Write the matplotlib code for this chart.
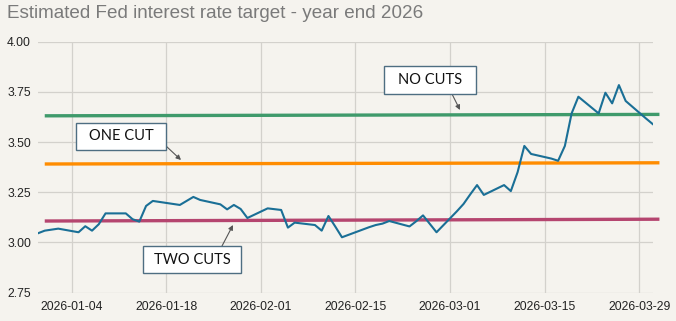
import matplotlib
matplotlib.use("Agg")
import matplotlib.pyplot as plt
import matplotlib.dates as mdates
from matplotlib.patches import Rectangle
import pandas as pd

# Market-implied year-end 2026 Fed funds target (daily closes)
dates = [
    "2025-12-30", "2025-12-31", "2026-01-02", "2026-01-05", "2026-01-06", "2026-01-07",
    "2026-01-08", "2026-01-09", "2026-01-12", "2026-01-13", "2026-01-14", "2026-01-15",
    "2026-01-16", "2026-01-20", "2026-01-21", "2026-01-22", "2026-01-23", "2026-01-26",
    "2026-01-27", "2026-01-28", "2026-01-29", "2026-01-30", "2026-02-02", "2026-02-03",
    "2026-02-04", "2026-02-05", "2026-02-06", "2026-02-09", "2026-02-10", "2026-02-11",
    "2026-02-12", "2026-02-13", "2026-02-17", "2026-02-18", "2026-02-19", "2026-02-20",
    "2026-02-23", "2026-02-24", "2026-02-25", "2026-02-26", "2026-02-27", "2026-03-02",
    "2026-03-03", "2026-03-04", "2026-03-05", "2026-03-06", "2026-03-09", "2026-03-10",
    "2026-03-11", "2026-03-12", "2026-03-13", "2026-03-16", "2026-03-17", "2026-03-18",
    "2026-03-19", "2026-03-20", "2026-03-23", "2026-03-24", "2026-03-25", "2026-03-26",
    "2026-03-27", "2026-03-30", "2026-03-31",
]
rate = [
    3.046, 3.059, 3.069, 3.051, 3.081, 3.059,
    3.091, 3.145, 3.145, 3.116, 3.104, 3.182,
    3.207, 3.187, 3.207, 3.227, 3.212, 3.190,
    3.165, 3.187, 3.167, 3.122, 3.170, 3.166,
    3.162, 3.074, 3.099, 3.087, 3.059, 3.132,
    3.080, 3.026, 3.076, 3.087, 3.094, 3.107,
    3.080, 3.106, 3.135, 3.093, 3.051, 3.155,
    3.192, 3.240, 3.286, 3.237, 3.286, 3.256,
    3.350, 3.481, 3.441, 3.418, 3.407, 3.481,
    3.643, 3.726, 3.643, 3.746, 3.693, 3.784,
    3.705, 3.618, 3.590,
]

# Reference scenario levels (start, end)
scenario_dates = ["2025-12-31", "2026-04-01"]
no_cuts = [3.631, 3.638]
one_cut = [3.391, 3.397]
two_cuts = [3.107, 3.116]

y_ticks = [2.75, 3.00, 3.25, 3.50, 3.75, 4.00]
x_ticks = ["2026-01-04", "2026-01-18", "2026-02-01", "2026-02-15",
           "2026-03-01", "2026-03-15", "2026-03-29"]

BG = "#f5f3ee"
GRID = "#d3d1cc"
W, H = 676, 321

fig = plt.figure(figsize=(6.76, 3.21), dpi=100, facecolor=BG)
ax = fig.add_axes([0.0562, 0.0882, 0.9093, 0.7818], facecolor=BG)

d = pd.to_datetime(dates)
sd = pd.to_datetime(scenario_dates)

ax.plot(sd, no_cuts, color="#3f9a6b", lw=2.4, clip_on=False, zorder=3,
        solid_capstyle="butt")
ax.plot(sd, one_cut, color="#ff8c00", lw=2.4, clip_on=False, zorder=3,
        solid_capstyle="butt")
ax.plot(sd, two_cuts, color="#b5456f", lw=2.4, clip_on=False, zorder=3,
        solid_capstyle="butt")
ax.plot(d, rate, color="#1a6f96", lw=1.5, zorder=4)

ax.set_xlim(pd.Timestamp("2025-12-30"), pd.Timestamp("2026-03-31"))
ax.set_ylim(2.75, 4.00)
ax.set_yticks(y_ticks)
ax.set_yticklabels([f"{v:.2f}" for v in y_ticks])
ax.set_xticks(pd.to_datetime(x_ticks))
ax.xaxis.set_major_formatter(mdates.DateFormatter("%Y-%m-%d"))

for s in ax.spines.values():
    s.set_visible(False)
ax.grid(True, color=GRID, lw=0.9)
ax.set_axisbelow(True)
ax.tick_params(axis="both", length=0, labelsize=8.7, colors="#222222",
               labelfontfamily="Liberation Sans")
ax.tick_params(axis="y", pad=5)
ax.tick_params(axis="x", pad=6)

fig.text(0.010, 0.958, "Estimated Fed interest rate target - year end 2026",
         fontsize=13.6, color="#7a7a7a", family="Liberation Sans", va="center")


def px(x, y):
    """Pixel position (from top-left) to figure fraction."""
    return x / W, 1 - y / H


def callout(label, left, top, right, bottom, tail, head):
    x0, y0 = px(left, bottom)
    x1, y1 = px(right, top)
    fig.patches.append(Rectangle((x0, y0), x1 - x0, y1 - y0,
                                 transform=fig.transFigure, fc="white",
                                 ec="#4e6e82", lw=1.0, zorder=6))
    fig.text((x0 + x1) / 2, (y0 + y1) / 2, label, fontsize=10.5,
             family="Lato", ha="center", va="center", color="#111111",
             zorder=7)
    ax.annotate("", xy=px(*head), xycoords="figure fraction",
                xytext=px(*tail), textcoords="figure fraction",
                arrowprops=dict(arrowstyle="-|>", color="#555555", lw=0.8,
                                mutation_scale=7, shrinkA=0, shrinkB=0),
                zorder=6)


callout("NO CUTS", 384, 66, 476, 94, (452, 94), (460, 110))
callout("ONE CUT", 76, 123, 166, 150, (166, 146), (181, 160))
callout("TWO CUTS", 143, 246, 241, 273, (222, 246), (233, 225))

fig.savefig("out.png", dpi=100, facecolor=BG)
